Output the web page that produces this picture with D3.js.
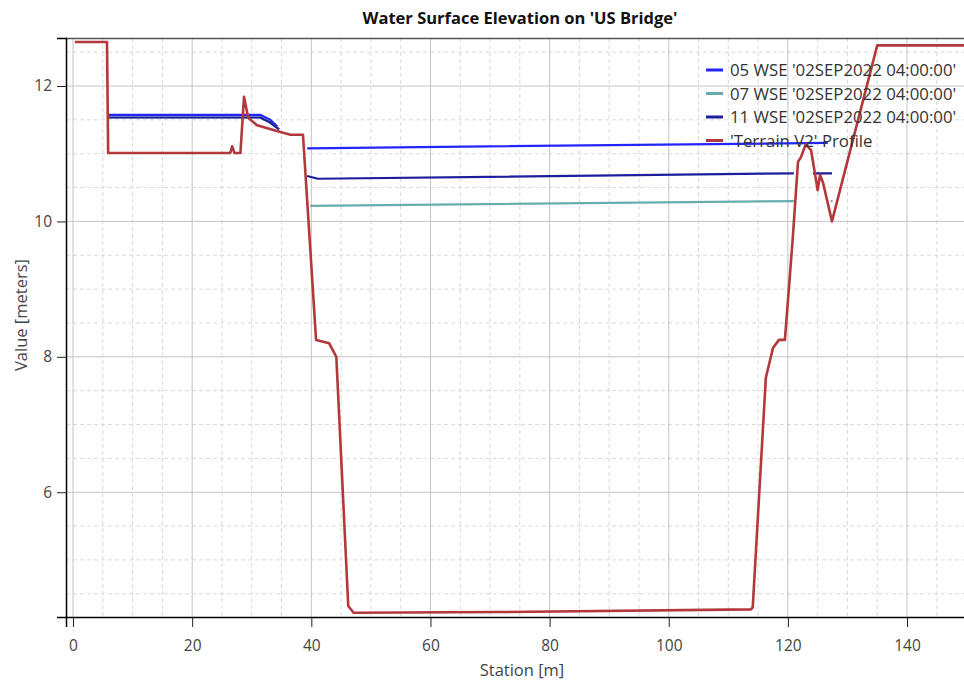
<!DOCTYPE html>
<html>
<head>
<meta charset="utf-8">
<script src="https://cdn.jsdelivr.net/npm/d3@7"></script>
<style>
  body { margin: 0; background: #fff; }
  text { font-family: 'Open Sans', 'Noto Sans', sans-serif; }
</style>
</head>
<body>
<svg width="964" height="681"></svg>
<script>
// data (station in m, elevation in m); null = gap in a line
var terrainStation = [0.3, 5.7, 5.9, 26.4, 26.7, 27.1, 28.1, 28.7, 29.4, 30.9, 34.8, 36.5, 38.6, 40.8, 43.0, 44.2, 46.2, 47.1, 71.8, 113.8, 114.1, 116.3, 117.5, 118.5, 119.5, 120.8, 121.7, 122.2, 123.0, 123.9, 125.0, 125.4, 125.9, 127.4, 135.0, 152];
var terrainElev    = [12.65, 12.65, 11.01, 11.01, 11.11, 11.01, 11.01, 11.84, 11.53, 11.42, 11.32, 11.28, 11.28, 8.25, 8.2, 8.0, 4.32, 4.22, 4.23, 4.27, 4.3, 7.69, 8.13, 8.25, 8.25, 9.73, 10.88, 10.95, 11.14, 11.05, 10.46, 10.69, 10.57, 10.0, 12.6, 12.6];

var wse05Station = [5.9, 31.4, 33.1, 34.3, null, 39.3, 126.7];
var wse05Elev    = [11.575, 11.575, 11.5, 11.4, null, 11.08, 11.16];

var wse07Station = [5.9, 31.4, 33.1, 34.6, null, 39.8, 121.0, null, 127.2, 127.5];
var wse07Elev    = [11.535, 11.535, 11.46, 11.36, null, 10.23, 10.3, null, 10.3, 10.3];

var wse11Station = [5.9, 31.4, 33.1, 34.6, null, 39.3, 41.1, 121.0, null, 124.2, 127.4];
var wse11Elev    = [11.535, 11.535, 11.46, 11.36, null, 10.67, 10.63, 10.71, null, 10.71, 10.71];

var legendNames = ["05 WSE '02SEP2022 04:00:00'", "07 WSE '02SEP2022 04:00:00'", "11 WSE '02SEP2022 04:00:00'", "'Terrain V2' Profile"];
var colors = ['#2424ff', '#68adad', '#1e1e9c', '#b3383b'];

var xMajor = [0, 20, 40, 60, 80, 100, 120, 140];
var yMajor = [6, 8, 10, 12];

var pLeft = 66, pTop = 38, pRight = 966, pBottom = 617;

var svg = d3.select('svg');

var scaleX = d3.scaleLinear().domain([-1.18, 149.9]).range([pLeft, pRight]);
var scaleY = d3.scaleLinear().domain([4.157, 12.709]).range([pBottom, pTop]);

var xMinor = d3.range(0, 151, 5).filter(function(v) { return v % 20 != 0; });
var yMinor = d3.range(4.5, 12.6, 0.5).filter(function(v) { return v % 2 != 0; });

// grid
var grid = svg.append('g');
grid.selectAll('.gxm').data(xMinor).enter().append('line')
    .attr('x1', function(d) { return scaleX(d); }).attr('x2', function(d) { return scaleX(d); })
    .attr('y1', pTop).attr('y2', pBottom)
    .attr('stroke', '#d9d9d9').attr('stroke-dasharray', '4,3');
grid.selectAll('.gym').data(yMinor).enter().append('line')
    .attr('y1', function(d) { return scaleY(d); }).attr('y2', function(d) { return scaleY(d); })
    .attr('x1', pLeft).attr('x2', pRight)
    .attr('stroke', '#d9d9d9').attr('stroke-dasharray', '4,3');
grid.selectAll('.gx').data(xMajor).enter().append('line')
    .attr('x1', function(d) { return scaleX(d); }).attr('x2', function(d) { return scaleX(d); })
    .attr('y1', pTop).attr('y2', pBottom)
    .attr('stroke', '#c4c4c4');
grid.selectAll('.gy').data(yMajor).enter().append('line')
    .attr('y1', function(d) { return scaleY(d); }).attr('y2', function(d) { return scaleY(d); })
    .attr('x1', pLeft).attr('x2', pRight)
    .attr('stroke', '#c4c4c4');

// top frame
svg.append('line').attr('x1', pLeft).attr('x2', pRight).attr('y1', pTop + 0.5).attr('y2', pTop + 0.5)
    .attr('stroke', '#555').attr('stroke-width', 1.5);

// series
svg.append('clipPath').attr('id', 'clip').append('rect')
    .attr('x', pLeft).attr('y', pTop).attr('width', pRight - pLeft).attr('height', pBottom - pTop);
var plot = svg.append('g').attr('clip-path', 'url(#clip)');

function pairs(xs, ys) {
    return xs.map(function(v, i) { return v == null ? null : [v, ys[i]]; });
}
var line = d3.line()
    .defined(function(d) { return d != null; })
    .x(function(d) { return scaleX(d[0]); })
    .y(function(d) { return scaleY(d[1]); });

var series = [
    { pts: pairs(wse05Station, wse05Elev), w: 2.2 },
    { pts: pairs(wse07Station, wse07Elev), w: 2.2 },
    { pts: pairs(wse11Station, wse11Elev), w: 2.2 },
    { pts: pairs(terrainStation, terrainElev), w: 2.6 }
];
series.forEach(function(s, i) {
    plot.append('path')
        .attr('d', line(s.pts))
        .attr('fill', 'none')
        .attr('stroke', colors[i])
        .attr('stroke-width', s.w)
        .attr('stroke-linejoin', 'round');
});

// axes
var axX = svg.append('g').attr('transform', 'translate(0,' + pBottom + ')');
axX.call(d3.axisBottom(scaleX).tickValues(xMinor).tickSize(6).tickFormat(''));
axX.call(d3.axisBottom(scaleX).tickValues(xMajor).tickSize(10).tickPadding(13).tickFormat(d3.format('d')));
axX.selectAll('path').attr('stroke', '#000').attr('stroke-width', 1.5);
axX.selectAll('line').attr('stroke', '#222');
axX.selectAll('text').attr('font-size', 15.5).attr('fill', '#444');

var axY = svg.append('g').attr('transform', 'translate(' + pLeft + ',0)');
axY.call(d3.axisLeft(scaleY).tickValues(yMinor).tickSize(6).tickFormat(''));
axY.call(d3.axisLeft(scaleY).tickValues(yMajor).tickSize(9).tickPadding(5).tickFormat(d3.format('d')));
axY.selectAll('path').attr('stroke', '#000').attr('stroke-width', 1.5);
axY.selectAll('line').attr('stroke', '#222');
axY.selectAll('text').attr('font-size', 15.5).attr('fill', '#444');

// titles
svg.append('text')
    .attr('x', 520).attr('y', 24)
    .attr('text-anchor', 'middle')
    .attr('font-size', 16.5).attr('font-weight', 'bold').attr('fill', '#111')
    .text("Water Surface Elevation on 'US Bridge'");

svg.append('text')
    .attr('x', 522).attr('y', 676)
    .attr('text-anchor', 'middle')
    .attr('font-size', 16.5).attr('fill', '#444')
    .text('Station [m]');

svg.append('text')
    .attr('x', -315).attr('y', 27)
    .attr('text-anchor', 'middle')
    .attr('font-size', 16.5).attr('fill', '#444')
    .attr('transform', 'rotate(270)')
    .text('Value [meters]');

// legend
var legend = svg.append('g');
legendNames.forEach(function(name, i) {
    var yy = 70 + i * 23.5;
    legend.append('line')
        .attr('x1', 706).attr('x2', 723).attr('y1', yy).attr('y2', yy)
        .attr('stroke', colors[i]).attr('stroke-width', 3);
    legend.append('text')
        .attr('x', 730).attr('y', yy + 6)
        .attr('font-size', 16.8).attr('fill', '#333')
        .text(name);
});
</script>
</body>
</html>
